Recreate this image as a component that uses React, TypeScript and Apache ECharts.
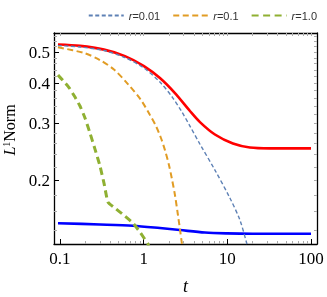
import React, { useEffect, useRef } from "react";
import * as echarts from "echarts";

// r = 0.01 (blue dashed)
const T_R001 = [0.0946, 0.1734, 0.3356, 0.598, 1.008, 1.565, 2.239, 2.869, 3.574, 4.706, 7.11, 10.74, 14.14, 17.15, 17.5];
const Y_R001 = [0.5237, 0.5184, 0.5054, 0.4806, 0.4459, 0.4034, 0.3598, 0.3256, 0.2945, 0.2589, 0.215, 0.176, 0.1504, 0.1267, 0.124];
// r = 0.1 (orange dashed)
const T_R01 = [0.0946, 0.1936, 0.3006, 0.4416, 0.6487, 0.9292, 1.1896, 1.403, 1.609, 1.797, 2.006, 2.178, 2.366, 2.569, 2.715, 2.869, 2.9];
const Y_R01 = [0.5172, 0.4966, 0.4721, 0.4412, 0.3977, 0.3547, 0.3187, 0.2945, 0.2704, 0.248, 0.2229, 0.2016, 0.1799, 0.1559, 0.141, 0.1267, 0.124];
// r = 1.0 (green dashed)
const T_R1 = [0.0946, 0.1086, 0.1281, 0.1511, 0.1734, 0.199, 0.2283, 0.2619, 0.3006, 0.3356, 0.3746, 0.4542, 0.598, 0.7451, 0.9033, 1.126, 1.15];
const Y_R1 = [0.4241, 0.4078, 0.3879, 0.3624, 0.3399, 0.3119, 0.2801, 0.2498, 0.2213, 0.1959, 0.171, 0.1638, 0.1547, 0.1472, 0.138, 0.1267, 0.125];
// red solid
const T_RED = [0.0946, 0.1734, 0.3356, 0.598, 1.008, 1.565, 2.366, 3.574, 4.706, 7.11, 11.67, 18.62, 32.3, 100];
const Y_RED = [0.5275, 0.5225, 0.5088, 0.4857, 0.4521, 0.4151, 0.3727, 0.328, 0.303, 0.2772, 0.2599, 0.2526, 0.2511, 0.2511];
// blue solid
const T_BLUE = [0.0946, 0.3006, 0.7451, 1.565, 2.7, 5.4, 9.9, 20, 100];
const Y_BLUE = [0.147, 0.1457, 0.1444, 0.142, 0.14, 0.1375, 0.1367, 0.1364, 0.1364];

const X_TICKS = [0.1, 1, 10, 100];
const X_MINOR = [0.2, 0.3, 0.4, 0.5, 0.6, 0.7, 0.8, 0.9, 2, 3, 4, 5, 6, 7, 8, 9, 20, 30, 40, 50, 60, 70, 80, 90];
const Y_TICKS = [0.2, 0.3, 0.4, 0.5];
const Y_MINOR = [0.14, 0.16, 0.18, 0.22, 0.24, 0.26, 0.28, 0.32, 0.34, 0.36, 0.38, 0.42, 0.44, 0.46, 0.48, 0.52, 0.54, 0.56];

const X_MIN = 0.0848;
const X_MAX = 118;
const Y_MIN = 0.1267;
const Y_MAX = 0.573;

const SERIF = "'Liberation Serif', 'Times New Roman', serif";
const SANS = "'Liberation Sans', Arial, sans-serif";

export default function App() {
  const ref = useRef<HTMLDivElement>(null);
  useEffect(() => {
    const chart = echarts.init(ref.current!, null, { renderer: "svg" });
    const zip = (t: number[], y: number[]) => t.map((v, i) => [v, y[i]]);
    const fmtX = (v: number) => String(parseFloat(Number(v).toPrecision(3)));
    const fmtY = (v: number) => Number(v).toFixed(1);
    const frame = { show: true, lineStyle: { color: "#000", width: 1.3 } };
    const baseX = { type: "log", logBase: 10, min: X_MIN, max: X_MAX, splitLine: { show: false } };
    const baseY = { type: "log", logBase: 10, min: Y_MIN, max: Y_MAX, splitLine: { show: false } };
    const grey = { color: "#aaa", width: 1 };
    const option: any = {
      animation: false,
      grid: { left: 54, right: 10, top: 33, bottom: 53, containLabel: false, outerBoundsMode: "none" },
      legend: {
        data: ["r=0.01", "r=0.1", "r=1.0"],
        right: 5,
        top: 5,
        itemWidth: 35,
        itemHeight: 4,
        itemGap: 12,
        itemStyle: { opacity: 0 },
        formatter: (name: string) => "{i|r}{n|" + name.slice(1) + "}",
        textStyle: {
          color: "#333",
          fontFamily: SANS,
          fontSize: 11,
          rich: {
            i: { fontStyle: "italic", fontFamily: SANS, fontSize: 11, color: "#333" },
            n: { fontFamily: SANS, fontSize: 11, color: "#333" },
          },
        },
      },
      xAxis: [
        {
          ...baseX,
          position: "bottom",
          axisLine: frame,
          axisTick: { show: true, inside: true, length: 5, customValues: X_TICKS, lineStyle: { color: "#000", width: 1 } },
          axisLabel: { customValues: X_TICKS, formatter: fmtX, fontFamily: SERIF, fontSize: 17, color: "#000", margin: 6 },
          name: "t",
          nameLocation: "middle",
          nameGap: 33,
          nameTextStyle: { fontFamily: SERIF, fontSize: 18, fontStyle: "italic", color: "#000" },
        },
        {
          ...baseX,
          position: "bottom",
          axisLine: { show: false },
          axisTick: { show: true, inside: true, length: 3, customValues: X_MINOR, lineStyle: grey },
          axisLabel: { show: false },
        },
        {
          ...baseX,
          position: "top",
          axisLine: frame,
          axisTick: { show: true, inside: true, length: 3, customValues: [...X_TICKS, ...X_MINOR], lineStyle: grey },
          axisLabel: { show: false },
        },
      ],
      yAxis: [
        {
          ...baseY,
          position: "left",
          axisLine: frame,
          axisTick: { show: true, inside: true, length: 5, customValues: Y_TICKS, lineStyle: { color: "#000", width: 1 } },
          axisLabel: { customValues: Y_TICKS, formatter: fmtY, fontFamily: SERIF, fontSize: 17, color: "#000", margin: 4 },
          name: "{i|L}{s|1}{n|Norm}",
          nameLocation: "middle",
          nameGap: 26,
          nameRotate: 90,
          nameTextStyle: {
            fontFamily: SERIF,
            fontSize: 16,
            color: "#000",
            padding: [0, 0, 0, 17],
            rich: {
              i: { fontFamily: SERIF, fontSize: 16, fontStyle: "italic", color: "#000" },
              s: { fontFamily: SERIF, fontSize: 10, color: "#000", verticalAlign: "top" },
              n: { fontFamily: SERIF, fontSize: 16, color: "#000" },
            },
          },
        },
        {
          ...baseY,
          position: "left",
          axisLine: { show: false },
          axisTick: { show: true, inside: true, length: 3, customValues: Y_MINOR, lineStyle: grey },
          axisLabel: { show: false },
        },
        {
          ...baseY,
          position: "right",
          axisLine: frame,
          axisTick: { show: true, inside: true, length: 3, customValues: [...Y_TICKS, ...Y_MINOR], lineStyle: grey },
          axisLabel: { show: false },
        },
      ],
      series: [
        {
          name: "red",
          type: "line",
          data: zip(T_RED, Y_RED),
          symbol: "none",
          smooth: 0.3,
          lineStyle: { color: "#ff0000", width: 2.6 },
          itemStyle: { color: "#ff0000" },
          z: 3,
        },
        {
          name: "r=0.01",
          type: "line",
          data: zip(T_R001, Y_R001),
          symbol: "none",
          smooth: 0.3,
          lineStyle: { color: "#5E81B5", width: 1.4, type: [4, 2.5] },
          itemStyle: { color: "#5E81B5" },
          z: 4,
        },
        {
          name: "r=0.1",
          type: "line",
          data: zip(T_R01, Y_R01),
          symbol: "none",
          smooth: 0.3,
          lineStyle: { color: "#E19C24", width: 2, type: [6, 3.5] },
          itemStyle: { color: "#E19C24" },
          z: 4,
        },
        {
          name: "r=1.0",
          type: "line",
          data: zip(T_R1, Y_R1),
          symbol: "none",
          smooth: 0.15,
          lineStyle: { color: "#8FB032", width: 3, type: [7, 4.5] },
          itemStyle: { color: "#8FB032" },
          z: 4,
        },
        {
          name: "blue",
          type: "line",
          data: zip(T_BLUE, Y_BLUE),
          symbol: "none",
          smooth: 0.3,
          lineStyle: { color: "#0000ff", width: 2.6 },
          itemStyle: { color: "#0000ff" },
          z: 3,
        },
      ],
    };
    chart.setOption(option);
    return () => chart.dispose();
  }, []);
  return <div ref={ref} style={{ position: "fixed", left: 0, top: 0, width: 327, height: 297 }} />;
}
